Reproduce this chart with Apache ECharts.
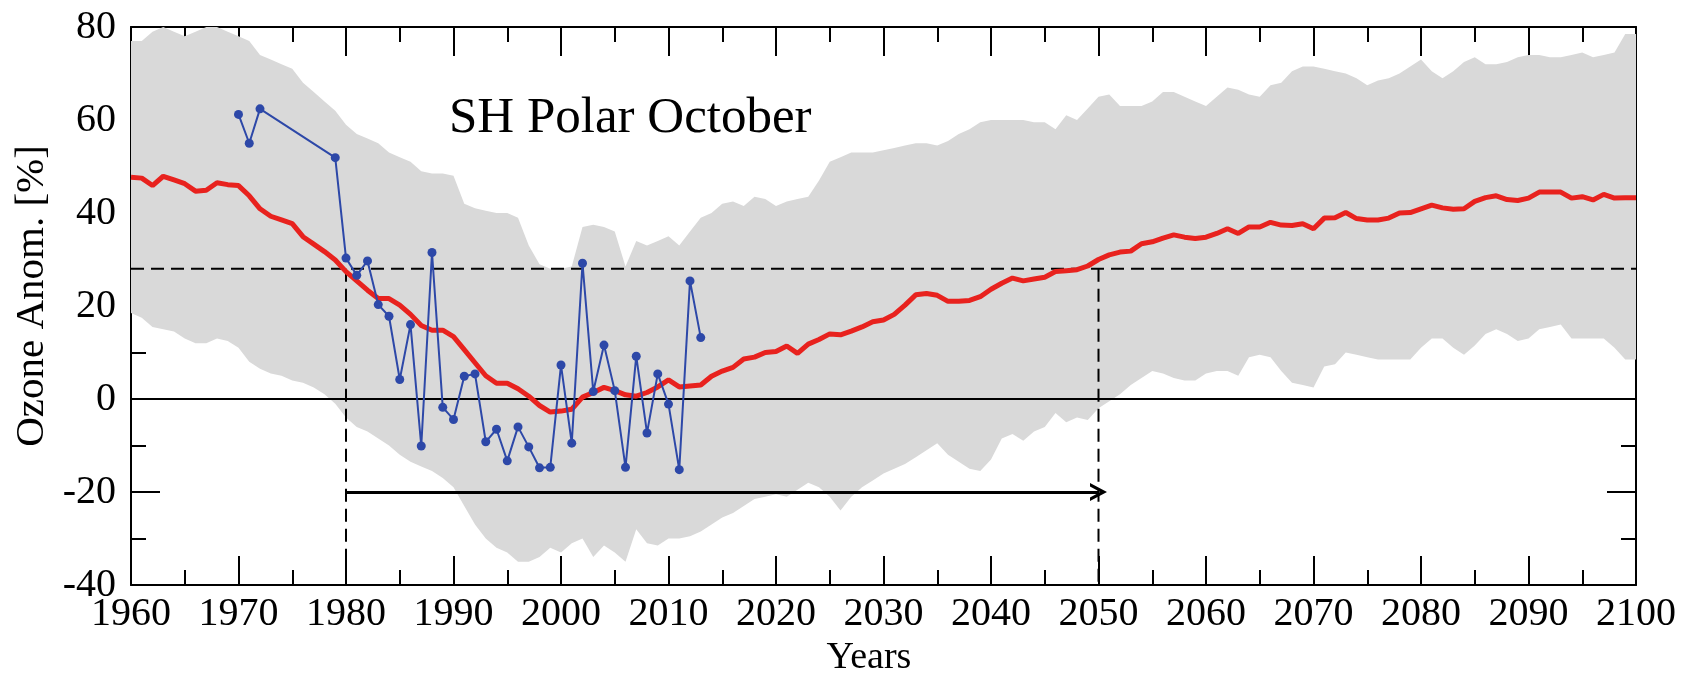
<!DOCTYPE html>
<html>
<head>
<meta charset="utf-8">
<script src="https://cdn.jsdelivr.net/npm/echarts@6/dist/echarts.min.js"></script>
<style>
html,body{margin:0;padding:0;background:#fff;}
#chart{width:1682px;height:676px;}
</style>
</head>
<body>
<div id="chart"></div>
<script>
// ---- data ----
const FIRST_YEAR = 1960;
// multi-model mean (red)
const meanValues = [
47.7,47.5,45.9,47.9,47.1,46.3,44.7,44.9,46.5,46.1,
45.9,43.7,40.9,39.3,38.5,37.7,34.9,33.3,31.7,29.9,
27.4,25.4,23.4,21.6,21.6,20.2,18.2,15.8,14.8,14.8,
13.4,10.6,7.8,5.0,3.4,3.4,2.2,0.6,-1.4,-2.8,
-2.6,-2.2,0.4,1.4,2.5,1.8,0.9,0.6,1.4,2.6,
4.1,2.6,2.8,3.0,4.9,6.0,6.8,8.6,9.0,10.0,
10.2,11.4,9.8,11.8,12.8,14.0,13.8,14.6,15.5,16.6,
17.0,18.2,20.2,22.4,22.7,22.3,21.0,21.0,21.2,22.0,
23.6,24.9,26.0,25.4,25.8,26.2,27.4,27.6,27.8,28.6,
30.0,31.0,31.6,31.8,33.4,33.8,34.6,35.3,34.8,34.5,
34.8,35.6,36.6,35.6,37.0,37.0,38.0,37.4,37.3,37.7,
36.6,38.9,39.0,40.1,38.8,38.5,38.5,38.9,40.0,40.1,
40.9,41.7,41.1,40.8,40.9,42.5,43.3,43.7,42.9,42.7,
43.2,44.5,44.5,44.5,43.2,43.5,42.8,44.0,43.2,43.3,
43.3
];
// model range upper bound (grey)
const upperValues = [
77,77,79,80,79,78,79,80,80,79,
78,77,74,73,72,71,68,66,64,62,
59,57,56,55,53,52,51,49,48.5,48.5,
48,42,41,40.5,40,40,39,33,29,28,
28,28.5,37,37.5,37,36,28.5,34,33,34,
35,33,36,39,40,42,42.5,41.5,43.5,43,
41.5,42.5,43,43.5,47,51,52,53,53,53,
53.5,54,54.5,55,55,54.5,55.5,57,58,59.5,
60,60,60,60,59.5,59.5,58,61,60,62.5,
65,65.5,63,63,63,64,66,66,65,64,
63,65,67,66.5,65.5,65,67.5,68,70.5,71.5,
71.5,71,70.5,70,69,67.5,68.5,69,70,71.5,
73,70.5,69,70.5,72.5,73.5,72,72,72.5,73.5,
74,74,73.5,73.5,74,74.5,73.5,74,74.5,78.5,
78.5
];
// model range lower bound (grey)
const lowerValues = [
18.5,17.5,15.5,15,14.5,13,12,12,13,12.5,
11,8,6.5,5.5,5,4,3.5,2.5,1,-1,
-4,-6,-7,-8.5,-10,-12,-13.5,-14.5,-15.5,-17,
-19,-23,-27,-30,-32,-33,-35,-35,-34,-32,
-33,-31,-30,-34,-31.5,-33,-35,-28,-31,-31.5,
-30,-30,-29.5,-28.5,-27,-25.5,-24.5,-23,-21.5,-21,
-20.5,-21,-19.5,-18,-19,-21,-24,-21,-19,-17.5,
-16,-15,-14,-12.5,-11,-9.5,-12,-13.5,-15,-15.5,
-13,-8.5,-7.5,-9,-7,-6,-3,-5,-4,-4.5,
-2,-0.5,1,3,4.5,6,5.5,4.5,4,4,
5.5,6,6,5,9,9.5,9,6,3.5,3,
2.5,7,7.5,10,9.5,9,8.5,8.5,8.5,8.5,
11,13,13,11,9.5,11.5,14,15,14,12.5,
13,15,15.5,16,13,13,13,13,11,8.5,
8.5
];
// observations (blue)
const obsYears = [1970,1971,1972,1979,1980,1981,1982,1983,1984,1985,1986,1987,1988,1989,1990,1991,1992,1993,1994,1995,1996,1997,1998,1999,2000,2001,2002,2003,2004,2005,2006,2007,2008,2009,2010,2011,2012,2013];
const obsValues = [61.2,55.0,62.4,51.9,30.3,26.6,29.7,20.3,17.8,4.2,16.0,-10.1,31.5,-1.8,-4.4,4.9,5.4,-9.2,-6.5,-13.3,-6.0,-10.3,-14.8,-14.7,7.3,-9.5,29.2,1.6,11.6,1.8,-14.7,9.2,-7.3,5.4,-1.1,-15.2,25.4,13.2];
// reference lines
const threshold1980 = 28;
const refYear = 1980;
const returnYear = 2050;
const arrowLevel = -20;
const xTicks = {min:1960, max:2100, interval:10};
const yTicks = {min:-40, max:80, interval:20};

// ---- build ----
const yearsIdx = meanValues.map((_, i) => FIRST_YEAR + i);
const meanData = yearsIdx.map((y, i) => [y, meanValues[i]]);
const bandData = yearsIdx.map((y, i) => [y, lowerValues[i], upperValues[i]]);
const obsData = obsYears.map((y, i) => [y, obsValues[i]]);

const FONT = 'Liberation Serif';
const axisCommon = {
  type: 'value',
  axisLine: {show: true, onZero: false, lineStyle: {color: '#000', width: 2}},
  axisTick: {show: true, inside: true, length: 29, lineStyle: {color: '#000', width: 2}},
  minorTick: {show: true, splitNumber: 2, length: 15, lineStyle: {color: '#000', width: 2}},
  splitLine: {show: false},
  minorSplitLine: {show: false}
};

const chart = echarts.init(document.getElementById('chart'), null, {renderer: 'canvas'});
chart.setOption({
  animation: false,
  backgroundColor: '#fff',
  grid: {left: 131, right: 46, top: 27, bottom: 91, containLabel: false},
  xAxis: [
    Object.assign({}, axisCommon, {
      position: 'bottom', min: xTicks.min, max: xTicks.max, interval: xTicks.interval,
      axisLabel: {show: true, fontFamily: FONT, fontSize: 40, color: '#000', margin: 9,
        formatter: v => String(v)}
    }),
    Object.assign({}, axisCommon, {
      position: 'top', min: xTicks.min, max: xTicks.max, interval: xTicks.interval,
      axisLabel: {show: false}
    })
  ],
  yAxis: [
    Object.assign({}, axisCommon, {
      position: 'left', min: yTicks.min, max: yTicks.max, interval: yTicks.interval,
      axisLabel: {show: true, fontFamily: FONT, fontSize: 40, color: '#000', margin: 15,
        formatter: v => String(v)}
    }),
    Object.assign({}, axisCommon, {
      position: 'right', min: yTicks.min, max: yTicks.max, interval: yTicks.interval,
      axisLabel: {show: false}
    })
  ],
  graphic: [
    {type: 'text', left: 449, top: 93, style: {text: 'SH Polar October', font: '51px "Liberation Serif"', fill: '#000'}},
    {type: 'text', x: 869, y: 658, style: {text: 'Years', font: '38px "Liberation Serif"', fill: '#000', align: 'center', verticalAlign: 'middle'}},
    {type: 'text', x: 32, y: 296, rotation: Math.PI / 2, style: {text: 'Ozone Anom. [%]', font: '41px "Liberation Serif"', fill: '#000', align: 'center', verticalAlign: 'middle'}}
  ],
  series: [
    {
      name: 'range', type: 'custom', data: bandData, silent: true, z: 1,
      encode: {x: 0, y: [1, 2]},
      renderItem: function (params, api) {
        if (params.dataIndex !== 0) return null;
        const pts = [];
        for (let i = 0; i < bandData.length; i++) pts.push(api.coord([bandData[i][0], bandData[i][2]]));
        for (let i = bandData.length - 1; i >= 0; i--) pts.push(api.coord([bandData[i][0], bandData[i][1]]));
        return {type: 'polygon', shape: {points: pts}, style: {fill: '#d9d9d9', stroke: null}};
      }
    },
    {
      name: 'zero', type: 'line', data: [[xTicks.min, 0], [xTicks.max, 0]],
      symbol: 'none', lineStyle: {color: '#000', width: 2}, z: 2, silent: true
    },
    {
      name: 'thr', type: 'line', data: [[xTicks.min, threshold1980], [xTicks.max, threshold1980]],
      symbol: 'none', lineStyle: {color: '#000', width: 2, type: [13, 7]}, z: 3, silent: true
    },
    {
      name: 'v1980', type: 'line', data: [[refYear, threshold1980], [refYear, yTicks.min]],
      symbol: 'none', lineStyle: {color: '#000', width: 2, type: [13, 7]}, z: 3, silent: true
    },
    {
      name: 'v2050', type: 'line', data: [[returnYear, threshold1980], [returnYear, yTicks.min]],
      symbol: 'none', lineStyle: {color: '#000', width: 2, type: [13, 7]}, z: 3, silent: true
    },
    {
      name: 'arrow', type: 'line', data: [], z: 4, silent: true,
      markLine: {
        silent: true, animation: false,
        symbol: ['none', 'path://M0,10L5,0L10,10L8,10L5,4L2,10Z'],
        symbolSize: [18, 17],
        label: {show: false},
        lineStyle: {color: '#000', width: 3, type: 'solid'},
        data: [[{coord: [refYear, arrowLevel]}, {coord: [returnYear, arrowLevel]}]]
      }
    },
    {
      name: 'mean', type: 'line', data: meanData, symbol: 'none',
      lineStyle: {color: '#e8221e', width: 5}, z: 5, silent: true
    },
    {
      name: 'obs', type: 'line', data: obsData, symbol: 'circle', symbolSize: 9,
      itemStyle: {color: '#2d48a8'}, lineStyle: {color: '#2d48a8', width: 2}, z: 6, silent: true
    }
  ]
});
</script>
</body>
</html>
